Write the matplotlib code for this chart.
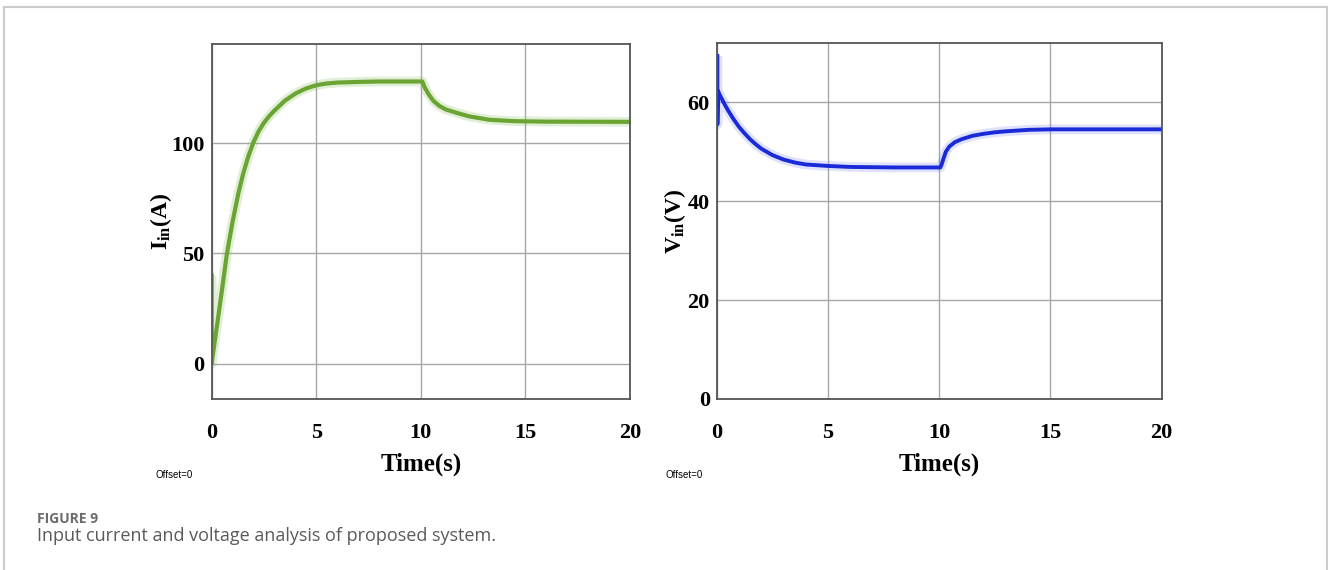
import matplotlib
matplotlib.use("Agg")
import matplotlib.pyplot as plt
from matplotlib.lines import Line2D

# input current trace (s, A)
time_i = [0.0, 0.0, 0.1, 0.25, 0.5, 0.72, 1.0, 1.27, 1.5, 1.75, 2.0, 2.25, 2.5,
          2.75, 3.0, 3.5, 4.0, 4.5, 5.0, 5.5, 6.0, 7.0, 8.0, 9.0, 10.07, 10.2, 10.4,
          10.6, 10.9, 11.2, 11.7, 12.3, 13.3, 14.5, 16.0, 20.0]
i_in = [40, 0, 7, 17, 34, 49.4, 64.5, 77, 86, 94, 100.5, 105.5, 109.3,
        112.3, 114.8, 119.3, 122.5, 124.8, 126.3, 127.1, 127.5, 127.8, 128, 128, 128, 125, 121.8,
        119.2, 116.8, 115.3, 113.8, 112.2, 110.6, 110, 109.8, 109.7]

# input voltage trace (s, V)
time_v = [0.03, 0.03, 0.06, 0.1, 0.2, 0.35, 0.5, 0.75, 1.0, 1.25, 1.5, 1.75, 2.0, 2.5,
          3.0, 3.5, 4.0, 5.0, 6.0, 8.0, 10.05, 10.1, 10.2, 10.3, 10.45, 10.7, 11.0, 11.5,
          12.0, 12.5, 13.0, 14.0, 15.0, 17.0, 20.0]
v_in = [69.3, 55.5, 62.3, 61.8, 60.9, 59.6, 58.4, 56.6, 55.0, 53.7, 52.5, 51.5, 50.6, 49.3,
        48.4, 47.8, 47.4, 47.1, 46.9, 46.8, 46.8, 47.3, 48.7, 50.0, 51.0, 51.9, 52.5, 53.2,
        53.6, 53.9, 54.1, 54.4, 54.5, 54.5, 54.5]

x_ticks = [0, 5, 10, 15, 20]
i_ticks = [0, 50, 100]
v_ticks = [0, 20, 40, 60]

plt.rcParams["mathtext.fontset"] = "custom"
plt.rcParams["mathtext.rm"] = "Liberation Serif:bold"
plt.rcParams["mathtext.bf"] = "Liberation Serif:bold"
plt.rcParams["mathtext.it"] = "Liberation Serif:bold"

serif = {"family": "Liberation Serif", "weight": "bold"}

fig = plt.figure(figsize=(13.28, 5.70), dpi=100)
ax1 = fig.add_axes([0.1594, 0.300, 0.315, 0.6228])
ax2 = fig.add_axes([0.5397, 0.300, 0.3351, 0.625])


def style_scope(ax, yticks, ylim, ylabel, label_x):
    ax.set_xlim(0, 20)
    ax.set_ylim(*ylim)
    ax.set_xticks(x_ticks)
    ax.set_yticks(yticks)
    ax.grid(True, color="#a8a8a8", linewidth=1.0)
    ax.set_axisbelow(True)
    for sp in ax.spines.values():
        sp.set_color("#555555")
        sp.set_linewidth(1.3)
    ax.tick_params(length=0, pad=5)
    ax.tick_params(axis="x", pad=17)
    for lab in ax.get_xticklabels() + ax.get_yticklabels():
        lab.set_fontfamily("Liberation Serif")
        lab.set_fontweight("bold")
        lab.set_fontsize(16)
    ax.set_xlabel("Time(s)", fontdict=serif, fontsize=18)
    ax.xaxis.set_label_coords(0.5, -0.15)
    ax.set_ylabel(ylabel, fontsize=17)
    ax.yaxis.set_label_coords(label_x, 0.5)


# current panel
ax1.plot(time_i, i_in, color="#8cc060", linewidth=7, alpha=0.25, solid_capstyle="butt")
ax1.plot(time_i, i_in, color="#6aa534", linewidth=3)
style_scope(ax1, i_ticks, (-16, 145), r"$\mathbf{I_{in}(A)}$", -0.09)

# voltage panel
ax2.plot(time_v, v_in, color="#6070f0", linewidth=7, alpha=0.2, solid_capstyle="butt")
ax2.plot(time_v, v_in, color="#1a2ad8", linewidth=2.8)
style_scope(ax2, v_ticks, (0, 72), r"$\mathbf{V_{in}(V)}$", -0.065)

narrow = ["Liberation Sans Narrow", "Liberation Sans"]
fig.text(155 / 1328, 1 - 475 / 570, "Offset=0", family=narrow, fontsize=7, va="center")
fig.text(665 / 1328, 1 - 475 / 570, "Offset=0", family=narrow, fontsize=7, va="center")

# caption
fig.text(37 / 1328, 1 - 523 / 570, "FIGURE 9", family="Open Sans", fontweight="bold",
         fontsize=10, color="#6b6b6b", va="baseline")
fig.text(37 / 1328, 1 - 541 / 570, "Input current and voltage analysis of proposed system.",
         family="Open Sans", fontsize=13, color="#5a5a5a", va="baseline")

# outer frame
frame = dict(color="#cccccc", linewidth=1.5, transform=fig.transFigure)
fig.add_artist(Line2D([4 / 1328, 4 / 1328], [0, 1 - 7 / 570], **frame))
fig.add_artist(Line2D([4 / 1328, 1], [1 - 7 / 570, 1 - 7 / 570], **frame))
fig.add_artist(Line2D([1327 / 1328, 1327 / 1328], [0, 1 - 7 / 570], **frame))

fig.savefig("out.png", dpi=100)
